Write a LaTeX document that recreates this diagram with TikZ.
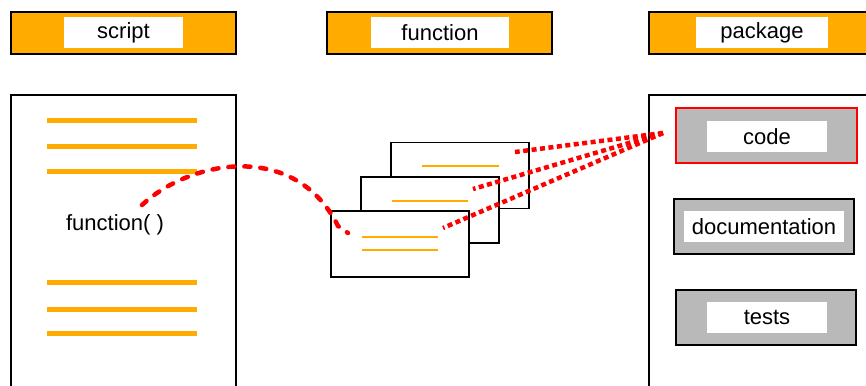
\documentclass[tikz,border=0pt]{standalone}
\usepackage{fontspec}
\setmainfont{Liberation Sans}
\definecolor{amber}{RGB}{255,171,0}
\definecolor{silver}{RGB}{185,185,185}

\begin{document}
\begin{tikzpicture}[x=1pt, y=-1pt, line width=2pt,
	head/.style = {draw, fill=amber, minimum width=225pt, minimum height=42pt, inner sep=0pt},
	tag/.style = {fill=white, minimum height=31pt, inner sep=0pt, font=\fontsize{22}{26}\selectfont},
	panel/.style = {draw, minimum width=225pt, minimum height=310pt},
	card/.style = {draw, fill=white, line width=1.6pt, minimum width=138pt, minimum height=66pt},
	part/.style = {draw, fill=silver, minimum width=180pt, minimum height=55pt},
	codeline/.style = {amber, line width=5pt},
	cardline/.style = {amber, line width=2.5pt},
	call/.style = {red, line width=4.5pt, line cap=round, dash pattern=on 6pt off 10pt},
	link/.style = {red, line width=4.5pt, dash pattern=on 5pt off 3.5pt}]

		\clip (0,0) rectangle (866,385);

		% headers
		\node[head] (hscript) at (123.5,33) {};
		\node[tag, minimum width=119pt] (tscript) at (123.5,32.5) {script};
		\node[head] (hfunction) at (439.5,33) {};
		\node[tag, minimum width=138pt] (tfunction) at (440,32.5) {function};
		\node[head] (hpackage) at (761.5,33) {};
		\node[tag, minimum width=132pt] (tpackage) at (762,32.5) {package};

		% script
		\node[panel] (script) at (123.5,250) {};
		\foreach \y in {120,146,171,282,309,333}
			\draw[codeline] (47,\y) -- (197,\y);
		\node[font=\fontsize{22}{26}\selectfont] (callsite) at (115,225) {function( )};

		% function cards
		\node[card] (card1) at (460,175.5) {};
		\draw[cardline] (422,166) -- (499,166);
		\node[card] (card2) at (430,210) {};
		\draw[cardline] (392,201) -- (468,201);
		\node[card] (card3) at (400,244) {};
		\draw[cardline] (362,237) -- (438,237);
		\draw[cardline] (362,250) -- (438,250);

		% package
		\node[panel] (package) at (761.5,250) {};
		\node[part, draw=red, minimum width=181pt] (code) at (766.5,135.5) {};
		\node[tag, minimum width=120pt] (tcode) at (767,136.5) {code};
		\node[part] (docs) at (764,226.5) {};
		\node[tag, minimum width=160pt] (tdocs) at (764,226.5) {documentation};
		\node[part] (tests) at (766,317.5) {};
		\node[tag, minimum width=120pt] (ttests) at (767,317) {tests};

		% links
		\coordinate (call) at (142,205);
		\coordinate (def) at (348,233);
		\coordinate (src) at (663,133);
		\coordinate (tip1) at (515,152);
		\coordinate (tip2) at (473,189);
		\coordinate (tip3) at (443,228);

		\draw[call] (call) .. controls (190,160) and (295,140) .. (338,226) -- (def);
		\draw[link] (src) -- (tip1);
		\draw[link] (src) -- (tip2);
		\draw[link] (src) -- (tip3);
	\end{tikzpicture}
\end{document}
